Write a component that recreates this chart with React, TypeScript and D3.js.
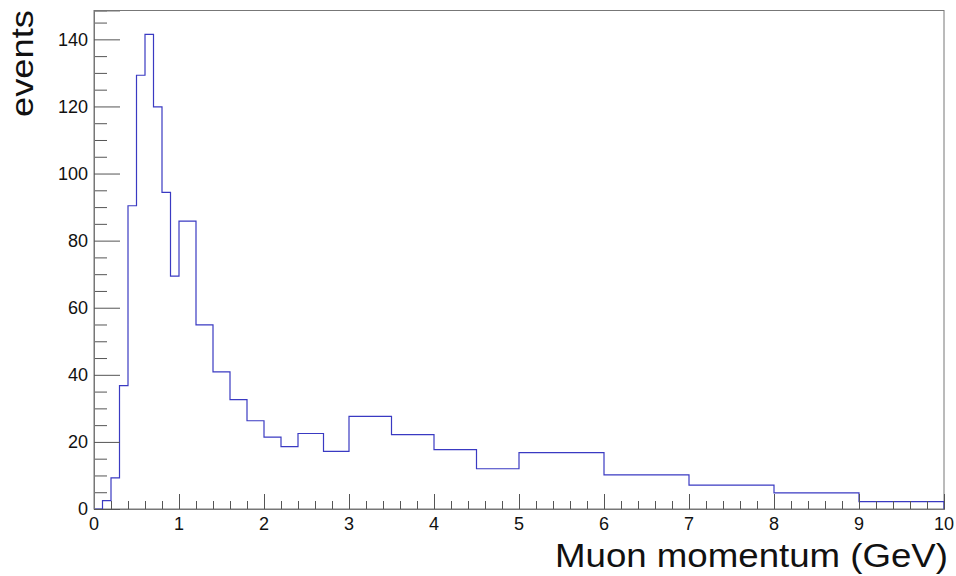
import { useEffect, useRef } from 'react';
import * as d3 from 'd3';

// bin edges of the histogram (GeV), variable width
const binEdges = [
  0, 0.1, 0.2, 0.3, 0.4, 0.5, 0.6, 0.7, 0.8, 0.9, 1.0,
  1.2, 1.4, 1.6, 1.8, 2.0, 2.2, 2.4,
  2.7, 3.0, 3.5, 4.0, 4.5, 5, 6, 7, 8, 9, 10,
];

// entries per bin
const counts = [
  0, 2.5, 9.3, 36.8, 90.4, 129.3, 141.5, 119.9, 94.4, 69.4,
  85.8, 54.9, 40.9, 32.6, 26.3, 21.4, 18.6,
  22.5, 17.2, 27.6, 22.2, 17.7, 12.0, 16.8, 10.2, 7.1, 4.8, 2.2,
];

const xTicks = [0, 1, 2, 3, 4, 5, 6, 7, 8, 9, 10];
const yTicks = [0, 20, 40, 60, 80, 100, 120, 140];
const xTitle = 'Muon momentum (GeV)';
const yTitle = 'events';

const width = 956;
const height = 576;
const margin = { top: 10.5, right: 12, bottom: 67, left: 94 };
const yMax = 148.6;

const App = () => {
  const svgRef = useRef<SVGSVGElement>(null);

  useEffect(() => {
    const svg = d3.select(svgRef.current);
    svg.selectAll('*').remove();

    const x = d3
      .scaleLinear()
      .domain([0, 10])
      .range([margin.left, width - margin.right]);
    const y = d3
      .scaleLinear()
      .domain([0, yMax])
      .range([height - margin.bottom, margin.top]);

    const x0 = x(0);
    const y0 = y(0);
    const axisColor = '#555';

    // frame
    svg
      .append('rect')
      .attr('x', x0)
      .attr('y', margin.top)
      .attr('width', x(10) - x0)
      .attr('height', y0 - margin.top)
      .attr('fill', 'none')
      .attr('stroke', '#777')
      .attr('stroke-width', 1);

    // histogram
    const pts: [number, number][] = [[0, 0]];
    binEdges.forEach((e, i) => {
      pts.push([e, counts[Math.min(i, counts.length - 1)]]);
    });
    pts.push([10, 0]);
    const line = d3
      .line<[number, number]>()
      .x((d) => x(d[0]))
      .y((d) => y(d[1]))
      .curve(d3.curveStepAfter);
    svg
      .append('path')
      .attr('d', line(pts))
      .attr('fill', 'none')
      .attr('stroke', '#3a3ac2')
      .attr('stroke-width', 1.2);

    // x axis ticks
    const xMinor = d3.range(0, 10.001, 0.2).filter((v) => Math.abs(v - Math.round(v)) > 1e-6);
    const xAxisMajor = d3.axisBottom(x).tickValues(xTicks).tickSize(-15).tickFormat(() => '');
    const xAxisMinor = d3.axisBottom(x).tickValues(xMinor).tickSize(-8).tickFormat(() => '');
    svg.append('g').attr('transform', `translate(0,${y0})`).call(xAxisMinor);
    svg.append('g').attr('transform', `translate(0,${y0})`).call(xAxisMajor);

    // y axis ticks
    const yMinor = d3.range(5, yMax, 5).filter((v) => v % 20 !== 0);
    const yAxisMajor = d3.axisLeft(y).tickValues(yTicks).tickSize(-26).tickFormat(() => '');
    const yAxisMinor = d3.axisLeft(y).tickValues(yMinor).tickSize(-13).tickFormat(() => '');
    svg.append('g').attr('transform', `translate(${x0},0)`).call(yAxisMinor);
    svg.append('g').attr('transform', `translate(${x0},0)`).call(yAxisMajor);

    svg.selectAll('.domain').attr('stroke', '#777');
    svg.selectAll('.tick line').attr('stroke', axisColor);

    // tick labels
    svg
      .selectAll('.xlab')
      .data(xTicks)
      .join('text')
      .attr('class', 'xlab')
      .attr('x', (d) => x(d))
      .attr('y', y0 + 20.5)
      .attr('text-anchor', 'middle')
      .attr('font-family', 'Liberation Sans, Arial, sans-serif')
      .attr('font-size', 18)
      .attr('fill', '#111')
      .text((d) => d);

    svg
      .selectAll('.ylab')
      .data(yTicks)
      .join('text')
      .attr('class', 'ylab')
      .attr('x', x0 - 6)
      .attr('y', (d) => y(d) + 6.3)
      .attr('text-anchor', 'end')
      .attr('font-family', 'Liberation Sans, Arial, sans-serif')
      .attr('font-size', 18)
      .attr('fill', '#111')
      .text((d) => d);

    // titles
    svg
      .append('text')
      .attr('x', 948)
      .attr('y', 567)
      .attr('text-anchor', 'end')
      .attr('font-family', 'Liberation Sans, Arial, sans-serif')
      .attr('font-size', 33)
      .attr('fill', '#111')
      .attr('textLength', 393)
      .attr('lengthAdjust', 'spacingAndGlyphs')
      .text(xTitle);

    svg
      .append('text')
      .attr('transform', 'translate(33,10) rotate(-90)')
      .attr('text-anchor', 'end')
      .attr('font-family', 'Liberation Sans, Arial, sans-serif')
      .attr('font-size', 31)
      .attr('fill', '#111')
      .attr('textLength', 107)
      .attr('lengthAdjust', 'spacingAndGlyphs')
      .text(yTitle);
  }, []);

  return (
    <div style={{ position: 'absolute', left: 0, top: 0 }}>
      <svg ref={svgRef} width={width} height={height} style={{ display: 'block', background: '#fff' }} />
    </div>
  );
};

export default App;
